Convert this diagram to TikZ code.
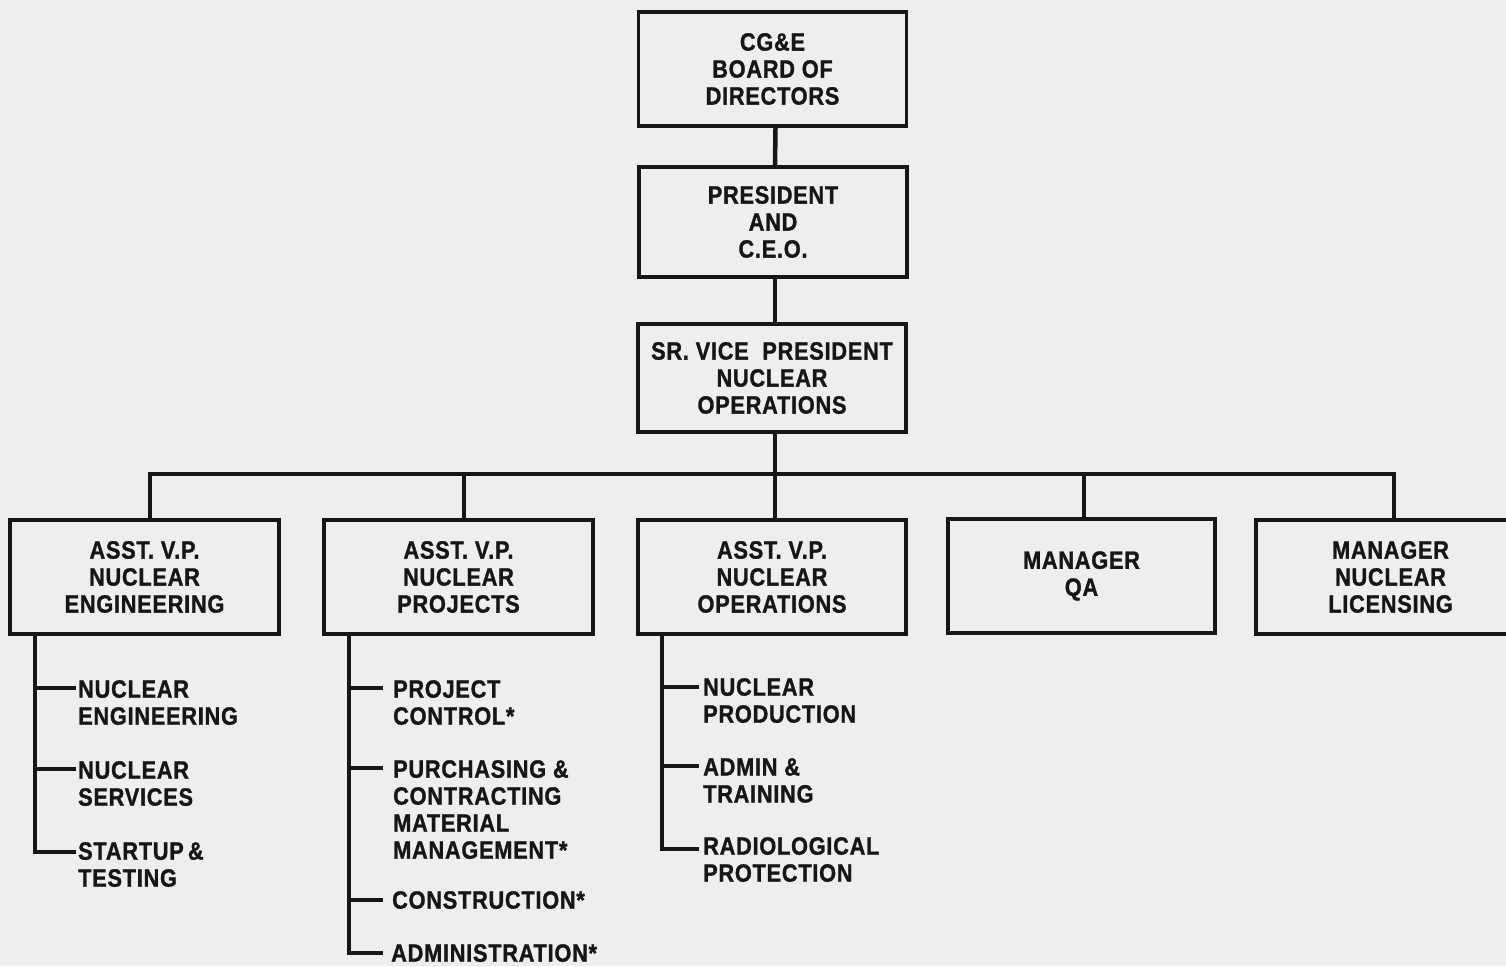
\documentclass[tikz,border=0pt]{standalone}
\usepackage{fontspec}
\newfontfamily\chartfont[FakeStretch=0.87,LetterSpace=3,FakeBold=1.2]{Liberation Sans}
\definecolor{paper}{RGB}{238,238,236}
\definecolor{ink}{RGB}{22,22,22}
\begin{document}
\begin{tikzpicture}[x=1pt,y=-1pt,
  every node/.style={font=\chartfont\bfseries\fontsize{25}{27}\selectfont, text=ink},
  orgbox/.style={draw=ink, line width=3.8pt, rectangle, align=center, inner sep=0pt,
                 minimum width=268pt, minimum height=112pt},
  conn/.style={draw=ink, line width=4.5pt},
  tick/.style={draw=ink, line width=4pt},
  item/.style={anchor=north west, align=left, inner sep=0pt}]
\fill[paper] (0,0) rectangle (1506,966);
\useasboundingbox (0,0) rectangle (1506,966);

% top chain
\node[orgbox, minimum height=114pt] (board) at (772.5,69) {CG\&E\\BOARD OF\\DIRECTORS};
\node[orgbox, minimum height=110pt] (pres) at (773,222) {PRESIDENT\\AND\\C.E.O.};
\node[orgbox, minimum height=108pt] (svp) at (772,378) {SR. VICE\ \ PRESIDENT\\NUCLEAR\\OPERATIONS};

% second level
\node[orgbox, minimum width=269pt, minimum height=114pt] (aen) at (144.5,577) {ASST. V.P.\\NUCLEAR\\ENGINEERING};
\node[orgbox, minimum width=269pt, minimum height=114pt] (apr) at (458.5,577) {ASST. V.P.\\NUCLEAR\\PROJECTS};
\node[orgbox, minimum height=114pt] (aop) at (772,577) {ASST. V.P.\\NUCLEAR\\OPERATIONS};
\node[orgbox, minimum width=267pt, minimum height=114pt] (mqa) at (1081.5,576) {MANAGER\\QA};
\node[orgbox, minimum width=269pt, minimum height=114pt] (lic) at (1390.5,577) {MANAGER\\NUCLEAR\\LICENSING};

% vertical chain
\draw[conn] ([xshift=3pt]board.south) -- ([xshift=2pt]pres.north);
\draw[conn] ([xshift=2pt]pres.south) -- ([xshift=3pt]svp.north);
\coordinate (bar) at (775,474);
\draw[conn] ([xshift=3pt]svp.south) -- ([xshift=3pt]aop.north);
\draw[conn] ([xshift=5.5pt]aen.north) -- ([xshift=5.5pt]aen.north |- bar)
            -- ([xshift=3.5pt]lic.north |- bar) -- ([xshift=3.5pt]lic.north);
\draw[conn] ([xshift=5.5pt]apr.north) -- ([xshift=5.5pt]apr.north |- bar);
\draw[conn] ([xshift=2.5pt]mqa.north) -- ([xshift=2.5pt]mqa.north |- bar);

% engineering branch
\coordinate (e0) at (35,634);
\node[item] (e1) at (78,680) {NUCLEAR\\ENGINEERING};
\node[item] (e2) at (78,761) {NUCLEAR\\SERVICES};
\node[item] (e3) at (78,842) {STARTUP\,\&\\TESTING};
\draw[conn] (e0) -- (e0 |- 0,852) -- (76,852);
\draw[tick] (e0 |- 0,688) -- (76,688);
\draw[tick] (e0 |- 0,769) -- (76,769);

% projects branch
\coordinate (p0) at (349,634);
\node[item] (p1) at (393,680) {PROJECT\\CONTROL*};
\node[item] (p2) at (393,760) {PURCHASING \&\\CONTRACTING\\MATERIAL\\MANAGEMENT*};
\node[item] (p3) at (392,891) {CONSTRUCTION*};
\node[item] (p4) at (391,944) {ADMINISTRATION*};
\draw[conn] (p0) -- (p0 |- 0,953) -- (383,953);
\draw[tick] (p0 |- 0,688) -- (383,688);
\draw[tick] (p0 |- 0,768) -- (383,768);
\draw[tick] (p0 |- 0,900) -- (383,900);

% operations branch
\coordinate (o0) at (662,634);
\node[item] (o1) at (703,678) {NUCLEAR\\PRODUCTION};
\node[item] (o2) at (703,758) {ADMIN \&\\TRAINING};
\node[item] (o3) at (703,837) {RADIOLOGICAL\\PROTECTION};
\draw[conn] (o0) -- (o0 |- 0,849) -- (699,849);
\draw[tick] (o0 |- 0,687) -- (699,687);
\draw[tick] (o0 |- 0,766) -- (699,766);
\end{tikzpicture}
\end{document}
